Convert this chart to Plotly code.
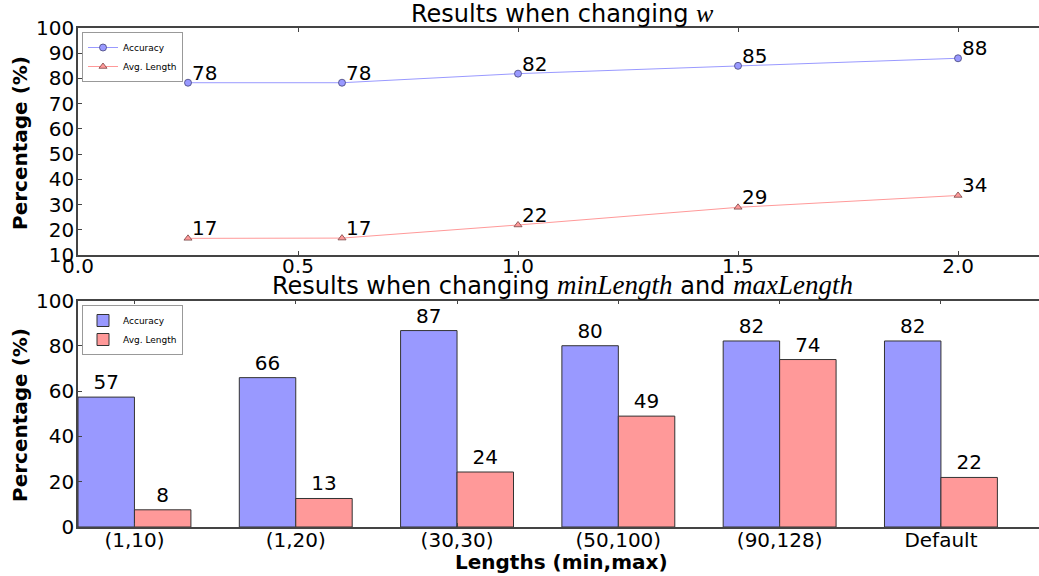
import plotly.graph_objects as go

# ---- data ----
w_values = [0.25, 0.6, 1.0, 1.5, 2.0]
w_accuracy = [78.3, 78.3, 81.9, 85.0, 88.0]
w_avg_length = [16.6, 16.7, 21.9, 28.9, 33.6]

length_cats = ["(1,10)", "(1,20)", "(30,30)", "(50,100)", "(90,128)", "Default"]
len_accuracy = [57.4, 66.0, 86.8, 80.1, 82.2, 82.2]
len_avg_length = [7.6, 12.6, 24.3, 49.0, 74.0, 21.9]

top_yticks = [10, 20, 30, 40, 50, 60, 70, 80, 90, 100]
top_xticks = [0.0, 0.5, 1.0, 1.5, 2.0]
bot_yticks = [0, 20, 40, 60, 80, 100]

BAR_W = 0.35
W, H = 1039, 576
ML, MR, MT, MB = 78, 0, 28, 49
FONT = "DejaVu Sans"
AX = "#444444"

def py(px):
    return (H - MB - px) / (H - MT - MB)

def pxx(px):
    return (px - ML) / (W - ML - MR)

fig = go.Figure()

fig.add_trace(go.Scatter(
    x=w_values, y=w_accuracy, mode="lines+markers", name="Accuracy",
    line=dict(color="#9999ff", width=1),
    marker=dict(symbol="circle", size=7, color="#9999ff", line=dict(color="#44447a", width=0.8)),
    xaxis="x", yaxis="y", legend="legend", cliponaxis=False,
))
fig.add_trace(go.Scatter(
    x=w_values, y=w_avg_length, mode="lines+markers", name="Avg. Length",
    line=dict(color="#ff9999", width=1),
    marker=dict(symbol="triangle-up", size=7, color="#ff9999", line=dict(color="#7a4444", width=0.8)),
    xaxis="x", yaxis="y", legend="legend", cliponaxis=False,
))
for series in (w_accuracy, w_avg_length):
    for xv, yv in zip(w_values, series):
        fig.add_annotation(x=xv, y=yv, xref="x", yref="y", text=f"{yv:.0f}",
                           xanchor="left", yanchor="bottom", xshift=2, yshift=-4,
                           showarrow=False, font=dict(size=20, color="black", family=FONT))

idx = list(range(len(length_cats)))
fig.add_trace(go.Bar(
    x=idx, y=len_accuracy, name="Accuracy", width=BAR_W, offset=0,
    marker=dict(color="#9999ff", line=dict(color="#333333", width=1)),
    text=[f"{v:.0f}" for v in len_accuracy], textposition="outside",
    textfont=dict(size=20, color="black", family=FONT),
    xaxis="x2", yaxis="y2", legend="legend2", cliponaxis=False,
))
fig.add_trace(go.Bar(
    x=idx, y=len_avg_length, name="Avg. Length", width=BAR_W, offset=BAR_W,
    marker=dict(color="#ff9999", line=dict(color="#333333", width=1)),
    text=[f"{v:.0f}" for v in len_avg_length], textposition="outside",
    textfont=dict(size=20, color="black", family=FONT),
    xaxis="x2", yaxis="y2", legend="legend2", cliponaxis=False,
))

axis_common = dict(showgrid=False, zeroline=False, showline=True, linecolor=AX, linewidth=1.5,
                   ticks="inside", ticklen=4, tickcolor=AX, automargin=False,
                   tickfont=dict(size=20, color="black", family=FONT))

legend_common = dict(xanchor="left", yanchor="top", bordercolor="#999999", borderwidth=1,
                     bgcolor="white", font=dict(size=9, family=FONT), tracegroupgap=0,
                     itemwidth=30)

fig.update_layout(
    width=W, height=H,
    margin=dict(l=ML, r=MR, t=MT, b=MB, pad=0, autoexpand=False),
    paper_bgcolor="white", plot_bgcolor="white",
    barmode="overlay",
    font=dict(family=FONT, color="black"),
    xaxis=dict(domain=[0, 1], range=[0, 2.184], anchor="y", mirror="ticks",
               ticklabelstandoff=-8,
               tickvals=top_xticks, ticktext=[f"{t:.1f}" for t in top_xticks], **axis_common),
    yaxis=dict(domain=[py(255), 1], range=[10, 100], anchor="x",
               ticklabelstandoff=-2, tickvals=top_yticks, **axis_common),
    xaxis2=dict(domain=[0, 1], range=[0, 5.958], anchor="y2", mirror="ticks",
                ticklabelstandoff=-6,
                tickvals=[i + BAR_W for i in idx], ticktext=length_cats, **axis_common),
    yaxis2=dict(domain=[0, py(300.7)], range=[0, 100], anchor="x2",
                ticklabelstandoff=-2, tickvals=bot_yticks, **axis_common),
    legend=dict(x=pxx(82), y=py(32), **legend_common),
    legend2=dict(x=pxx(82), y=py(305), **legend_common),
    showlegend=True,
)

mi = lambda s, size=24: (f"<span style='font-family:Liberation Serif;font-style:italic;"
                         f"font-size:{size}px'>{s}</span>")

fig.add_annotation(text="Results when changing " + mi("w", 26), xref="paper", yref="paper",
                   x=pxx(562), y=py(30), xanchor="center", yanchor="bottom",
                   showarrow=False, font=dict(size=24, color="black", family=FONT))
fig.add_annotation(text="Results when changing " + mi("minLength", 27) + " and " + mi("maxLength", 27),
                   xref="paper", yref="paper",
                   x=pxx(562), y=py(302), xanchor="center", yanchor="bottom",
                   showarrow=False, font=dict(size=24, color="black", family=FONT))
fig.add_annotation(text="<b>Percentage (%)</b>", xref="paper", yref="paper",
                   x=pxx(20), y=py(143), xanchor="center", yanchor="middle",
                   textangle=-90, showarrow=False,
                   font=dict(size=20, color="black", family=FONT))
fig.add_annotation(text="<b>Percentage (%)</b>", xref="paper", yref="paper",
                   x=pxx(20), y=py(415), xanchor="center", yanchor="middle",
                   textangle=-90, showarrow=False,
                   font=dict(size=20, color="black", family=FONT))
fig.add_annotation(text="<b>Lengths (min,max)</b>", xref="paper", yref="paper",
                   x=pxx(561), y=py(562), xanchor="center", yanchor="middle", showarrow=False,
                   font=dict(size=20, color="black", family=FONT))

fig.write_html("out.html", post_script="document.body.style.margin='0px';",
               config={"displayModeBar": False})
